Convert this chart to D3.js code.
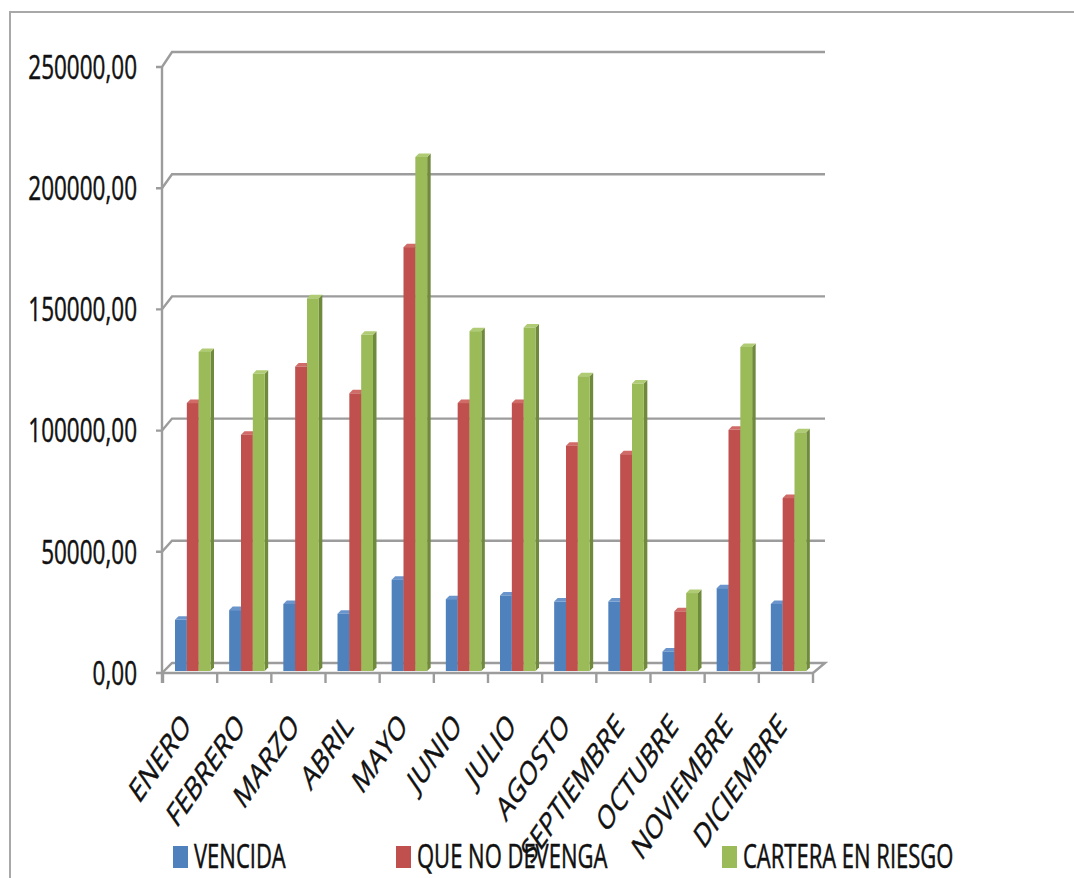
<!DOCTYPE html>
<html>
<head>
<meta charset="utf-8">
<script src="https://cdn.jsdelivr.net/npm/d3@7"></script>
<style>
  html, body { margin: 0; padding: 0; background: #fff; }
  svg { display: block; }
  text { font-family: "Open Sans", "Noto Sans", sans-serif; fill: #111; stroke: #111; stroke-width: 0.35px; }
</style>
</head>
<body>
<svg id="chart" width="1074" height="878"></svg>
<script>
// ---- data ----
const months = ["ENERO","FEBRERO","MARZO","ABRIL","MAYO","JUNIO","JULIO","AGOSTO","SEPTIEMBRE","OCTUBRE","NOVIEMBRE","DICIEMBRE"];
const seriesNames = ["VENCIDA","QUE NO DEVENGA","CARTERA EN RIESGO"];
const vencida = [21000, 25000, 27500, 23500, 37500, 29500, 31000, 28500, 28500, 8000, 34000, 27500];
const queNoDevenga = [110000, 97000, 125000, 114000, 174000, 110000, 110000, 92500, 89000, 24500, 99000, 71000];
const carteraEnRiesgo = [131000, 122000, 153000, 138000, 211000, 139500, 141000, 121000, 118000, 32000, 133000, 98000];
const yTicks = [0, 50000, 100000, 150000, 200000, 250000];
const yTickLabels = ["0,00","50000,00","100000,00","150000,00","200000,00","250000,00"];

// ---- styles ----
const faceColors = ["#4F81BD", "#C0504D", "#9BBB59"];
const sideColors = ["#385D8A", "#8C3836", "#6F8A3C"];
const topColors  = ["#6A95CC", "#D06B68", "#AFCB73"];
const gridColor = "#9c9c9c";
const SY = 1.45; // vertical text stretch

const svg = d3.select("#chart");
const series = [vencida, queNoDevenga, carteraEnRiesgo];

// frame
svg.append("path")
  .attr("d", "M10,878 L10,12 L1074,12")
  .attr("fill", "none").attr("stroke", "#a8a8a8").attr("stroke-width", 2);

// scales
const yFront = d3.scaleLinear().domain([0, 250000]).range([673, 67]);
const yBack  = d3.scaleLinear().domain([0, 250000]).range([663, 52]);
const yBar   = d3.scaleLinear().domain([0, 250000]).range([671, 62]);
const x = d3.scaleBand().domain(months).range([163, 813]).padding(0);
const xs = d3.scaleBand().domain(seriesNames).range([12, 47.5]).padding(0);

const axisX = 162, backX = 172, backRight = 825;

// gridlines (back wall) with diagonal tick connectors
const g = svg.append("g").attr("fill", "none").attr("stroke", gridColor).attr("stroke-width", 2.4);
yTicks.forEach(t => {
  const yf = yFront(t), yb = yBack(t);
  if (t === 0) {
    g.append("path").attr("d", `M${axisX-6},${yf} L${axisX},${yf} L${backX},${yb} L${backRight},${yb} L${x.range()[1]},${yFront(0)}`);
  } else {
    g.append("path").attr("d", `M${axisX-6},${yf} L${axisX},${yf} L${backX},${yb} L${backRight},${yb}`);
  }
});
// front floor line + x ticks
g.append("path").attr("d", `M${axisX},${yFront(0)} L${x.range()[1]},${yFront(0)}`);
months.forEach(m => {
  const xx = x(m);
  g.append("path").attr("d", `M${xx},${yFront(0)} L${xx},${yFront(0)+10}`);
});
g.append("path").attr("d", `M${x.range()[1]},${yFront(0)} L${x.range()[1]},${yFront(0)+10}`);
// vertical axis
g.append("path").attr("d", `M${axisX},${yFront(250000)} L${axisX},${yFront(0)+10}`);

// bars (pseudo 3D)
const dx = 3.5, dy = 3.5;
const barG = svg.append("g");
months.forEach((m, i) => {
  seriesNames.forEach((s, k) => {
    const v = series[k][i];
    const x0 = x(m) + xs(s);
    const w = xs.bandwidth();
    const yt = yBar(v), yb = yBar(0);
    const grp = barG.append("g");
    grp.append("path")
      .attr("d", `M${x0+w},${yt} L${x0+w+dx},${yt-dy} L${x0+w+dx},${yb-dy} L${x0+w},${yb} Z`)
      .attr("fill", sideColors[k]);
    grp.append("path")
      .attr("d", `M${x0},${yt} L${x0+dx},${yt-dy} L${x0+w+dx},${yt-dy} L${x0+w},${yt} Z`)
      .attr("fill", topColors[k]);
    grp.append("rect")
      .attr("x", x0).attr("y", yt).attr("width", w).attr("height", yb - yt)
      .attr("fill", faceColors[k]);
  });
});

// y labels
svg.append("g").selectAll("text").data(yTicks).join("text")
  .attr("transform", d => `translate(137,${yFront(d)}) scale(1,${SY})`)
  .attr("text-anchor", "end")
  .attr("dy", "0.36em")
  .style("font-size", "22.5px")
  .text((d, i) => yTickLabels[i]);

// x labels
svg.append("g").selectAll("text").data(months).join("text")
  .attr("transform", d => `translate(${x(d) + x.bandwidth()/2 + 2},728) scale(1,${SY}) rotate(-45)`)
  .attr("text-anchor", "end")
  .style("font-size", "23px")
  .text(d => d);

// legend
const legendX = [173, 396, 722];
const lg = svg.append("g").selectAll("g").data(seriesNames).join("g")
  .attr("transform", (d, i) => `translate(${legendX[i]},868)`);
lg.append("rect").attr("x", 0).attr("y", -22).attr("width", 15).attr("height", 22)
  .attr("fill", (d, i) => faceColors[i]);
lg.append("text").attr("transform", `translate(21,0) scale(1,${SY})`)
  .style("font-size", "22px")
  .text(d => d);
</script>
</body>
</html>
